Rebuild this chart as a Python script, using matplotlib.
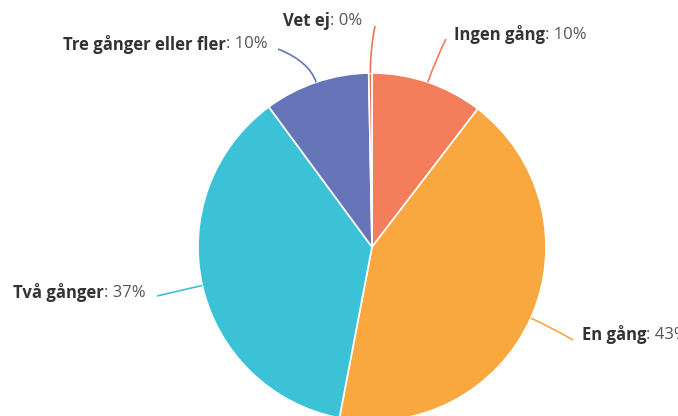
import matplotlib
matplotlib.use("Agg")
import matplotlib.pyplot as plt
import numpy as np
from matplotlib.path import Path
from matplotlib.patches import PathPatch

# ---- data ----
categories = ["Ingen gång", "En gång", "Två gånger", "Tre gånger eller fler", "Vet ej"]
values = [10.4, 42.6, 36.9, 9.8, 0.3]
colors = ["#F47D5B", "#F9A83F", "#3CC2D6", "#6674B8", "#EC7459"]

# ---- layout (pixels) ----
W, H = 678, 416
center = (372, 247)
radius = 174
label_pos = [(454, 35), (582, 335), (13, 293), (63, 44), (283, 21)]
conn_end = [(446, 39), (573, 340), (157, 296), (278, 49), (375, 26)]

fig = plt.figure(figsize=(W / 100, H / 100), dpi=100)
ax = fig.add_axes([0, 0, 1, 1])

wedges, _ = ax.pie(values, colors=colors, center=center, radius=radius,
                   startangle=-90, counterclock=True,
                   wedgeprops=dict(edgecolor="white", linewidth=1.2))
# y axis is inverted, so increasing angle runs clockwise on screen
ax.set_xlim(0, W)
ax.set_ylim(H, 0)
ax.set_aspect("equal")
ax.axis("off")

total = sum(values)
renderer = fig.canvas.get_renderer()
cum = 0
for i, (cat, v) in enumerate(zip(categories, values)):
    mid = (cum + v / 2) / total * 2 * np.pi
    cum += v
    dx, dy = np.sin(mid), -np.cos(mid)
    p0 = (center[0] + radius * dx, center[1] + radius * dy)
    p1 = (center[0] + (radius + 22) * dx, center[1] + (radius + 22) * dy)
    pe = conn_end[i]
    path = Path([p0, p1, pe], [Path.MOVETO, Path.CURVE3, Path.CURVE3])
    ax.add_patch(PathPatch(path, fill=False, edgecolor=colors[i], lw=1.2))

    pct = round(v / total * 100)
    lx, ly = label_pos[i]
    t1 = ax.text(lx, ly, cat, fontsize=12, fontweight="bold", color="#333333",
                 family="Open Sans", ha="left", va="center")
    bb = t1.get_window_extent(renderer=renderer)
    x_end = bb.x1
    ax.text(x_end, ly, f": {pct}%", fontsize=12, color="#555555",
            family="Open Sans", ha="left", va="center", clip_on=False)

fig.savefig("out.png", dpi=100)
